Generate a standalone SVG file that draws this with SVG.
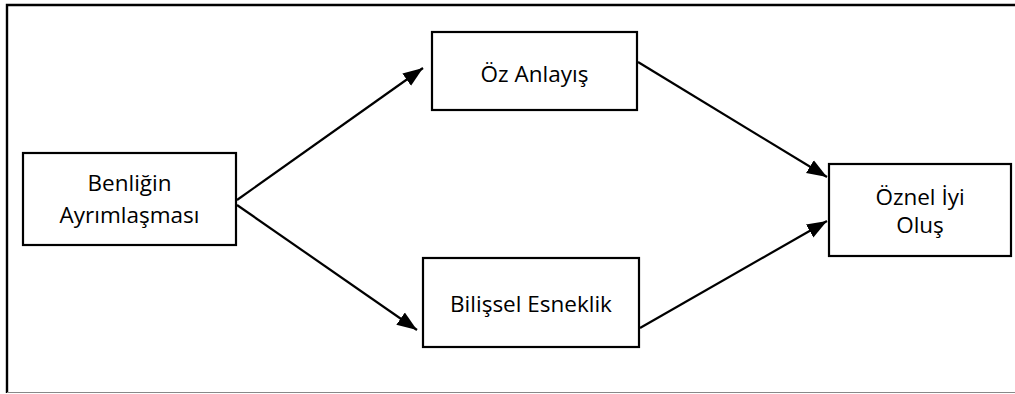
<svg xmlns="http://www.w3.org/2000/svg" width="1015" height="394" viewBox="0 0 1015 394">
<style>
.box{fill:#fff;stroke:#000;stroke-width:2.2}
.lbl{font-family:"Open Sans","Liberation Sans",sans-serif;font-size:22.5px;fill:#000;text-anchor:middle}
.conn{stroke:#000;stroke-width:2.2;fill:none}
</style>
<defs>
<marker id="arr" markerUnits="userSpaceOnUse" markerWidth="22" markerHeight="18" viewBox="0 0 22 18" refX="20" refY="9" orient="auto">
<path d="M0,1.5 L20,9 L0,16.5 Z" fill="#000"/>
</marker>
</defs>
<rect width="1015" height="394" fill="#fff"/>
<path d="M1015,5 H7 V393" fill="none" stroke="#000" stroke-width="2.4"/>
<line x1="7" y1="392.5" x2="1015" y2="392.5" stroke="#888" stroke-width="1.2"/>
<g id="connectors">
<line class="conn" x1="237" y1="200" x2="423" y2="68" marker-end="url(#arr)"/>
<line class="conn" x1="237" y1="205" x2="417" y2="330" marker-end="url(#arr)"/>
<line class="conn" x1="638" y1="62" x2="827" y2="177" marker-end="url(#arr)"/>
<line class="conn" x1="640" y1="328" x2="827" y2="221" marker-end="url(#arr)"/>
</g>
<g id="benligin">
<rect class="box" x="23" y="153" width="213" height="92"/>
<text class="lbl" x="129.5" y="191">Benliğin</text>
<text class="lbl" x="129.5" y="223">Ayrımlaşması</text>
</g>
<g id="oz-anlayis">
<rect class="box" x="432" y="32" width="205" height="78"/>
<text class="lbl" x="534.5" y="82">Öz Anlayış</text>
</g>
<g id="bilissel-esneklik">
<rect class="box" x="423" y="258" width="216" height="89"/>
<text class="lbl" x="531" y="312">Bilişsel Esneklik</text>
</g>
<g id="oznel-iyi-olus">
<rect class="box" x="829" y="164" width="182" height="92"/>
<text class="lbl" x="920" y="205">Öznel İyi</text>
<text class="lbl" x="920" y="233">Oluş</text>
</g>
</svg>
